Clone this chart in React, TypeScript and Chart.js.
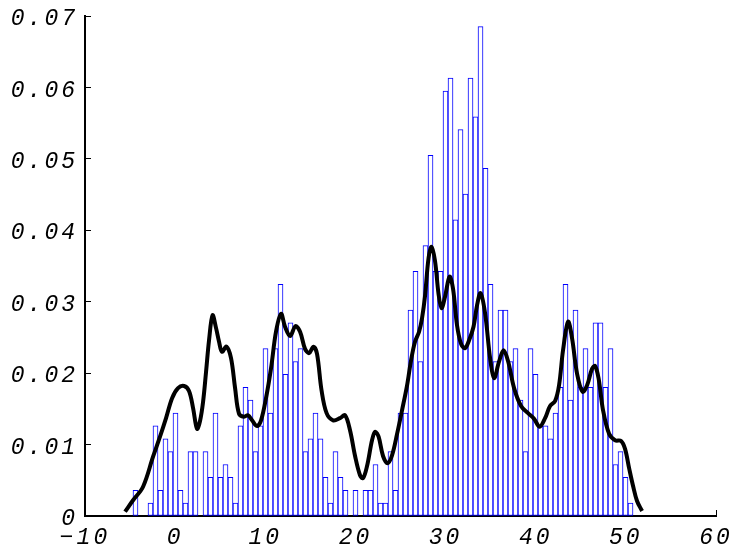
import React, { useEffect, useRef } from 'react';
import { Chart, registerables } from 'chart.js';

Chart.register(...registerables);

// Histogram: 100 bins, 1000 samples, normalised to a probability density
const binStart = -4.676;
const binWidth = 0.5547;
const sampleCount = 1000;
const binCounts = [
  2, 0, 0, 1, 7, 2, 6, 5, 8, 2,
  1, 5, 5, 0, 5, 3, 8, 3, 4, 3,
  1, 7, 10, 9, 5, 7, 13, 8, 13, 18,
  11, 15, 12, 13, 5, 6, 8, 6, 3, 1,
  5, 3, 2, 0, 2, 0, 2, 2, 4, 1,
  1, 5, 2, 8, 8, 16, 19, 12, 21, 28,
  19, 19, 33, 34, 23, 30, 25, 34, 31, 38,
  27, 18, 12, 16, 16, 12, 13, 9, 5, 13,
  11, 7, 7, 6, 8, 10, 18, 9, 16, 10,
  13, 10, 15, 15, 10, 13, 4, 5, 3, 1,
];

// Kernel density estimate (black curve)
const kdeX = [
  -5.56, -4.67, -3.56, -2.45, -1.68, -1.01, -0.34, 0.32, 0.99, 1.54,
  1.99, 2.43, 2.76, 3.10, 3.43, 3.76, 4.15, 4.54, 4.87, 5.20,
  5.70, 6.20, 6.65, 7.09, 7.64, 8.09, 8.53, 9.09, 9.53, 10.08,
  10.64, 11.19, 11.75, 12.19, 12.75, 13.36, 13.86, 14.41, 14.86, 15.35,
  15.74, 16.24, 16.80, 17.52, 18.29, 18.85, 19.40, 19.96, 20.51, 20.85,
  21.29, 21.84, 22.18, 22.57, 23.06, 23.56, 24.06, 24.62, 25.17, 25.73,
  26.17, 26.61, 27.06, 27.39, 27.72, 28.11, 28.45, 28.83, 29.22, 29.55,
  29.94, 30.44, 30.83, 31.27, 31.72, 32.16, 32.61, 33.10, 33.49, 33.88,
  34.38, 34.94, 35.38, 35.93, 36.43, 36.93, 37.60, 38.37, 39.15, 39.82,
  40.43, 41.04, 41.59, 42.15, 42.59, 43.03, 43.59, 44.03, 44.59, 45.20,
  45.70, 46.25, 46.58, 46.97, 47.47, 48.14, 48.80, 49.47, 49.91, 50.36,
  50.80, 51.24, 51.80,
];
const kdeY = [
  0.0006, 0.0022, 0.0041, 0.0083, 0.0111, 0.0137, 0.0165, 0.0179, 0.0182, 0.0175,
  0.0151, 0.0122, 0.0133, 0.0160, 0.0202, 0.0246, 0.0281, 0.0263, 0.0244, 0.0230,
  0.0237, 0.0221, 0.0179, 0.0143, 0.0139, 0.0141, 0.0134, 0.0126, 0.0134, 0.0165,
  0.0207, 0.0258, 0.0283, 0.0265, 0.0252, 0.0266, 0.0258, 0.0234, 0.0228, 0.0237,
  0.0227, 0.0176, 0.0144, 0.0134, 0.0137, 0.0141, 0.0120, 0.0084, 0.0057, 0.0053,
  0.0070, 0.0106, 0.0118, 0.0111, 0.0084, 0.0074, 0.0085, 0.0115, 0.0148, 0.0183,
  0.0218, 0.0244, 0.0258, 0.0277, 0.0308, 0.0361, 0.0377, 0.0357, 0.0311, 0.0291,
  0.0307, 0.0335, 0.0318, 0.0267, 0.0241, 0.0235, 0.0246, 0.0265, 0.0295, 0.0312,
  0.0284, 0.0221, 0.0193, 0.0216, 0.0232, 0.0217, 0.0179, 0.0154, 0.0144, 0.0136,
  0.0125, 0.0137, 0.0154, 0.0161, 0.0183, 0.0232, 0.0272, 0.0249, 0.0199, 0.0174,
  0.0183, 0.0206, 0.0210, 0.0193, 0.0148, 0.0115, 0.0106, 0.0105, 0.0094, 0.0067,
  0.0042, 0.0021, 0.0007,
];

const xTicks = [-10, 0, 10, 20, 30, 40, 50, 60];
const yTicks = [0, 0.01, 0.02, 0.03, 0.04, 0.05, 0.06, 0.07];

const tickFont = { family: "'Liberation Mono', monospace", style: 'italic' as const, size: 23, lineHeight: 1.1 };

const letterSpacingPlugin = {
  id: 'letterSpacing',
  beforeDraw(chart: any) {
    chart.ctx.letterSpacing = '3px';
  },
  afterDraw(chart: any) {
    chart.ctx.letterSpacing = '0px';
  },
};

export default function App() {
  const canvasRef = useRef<HTMLCanvasElement | null>(null);

  useEffect(() => {
    if (!canvasRef.current) return;
    const barData = binCounts.map((c, i) => ({
      x: binStart + binWidth * (i + 0.5),
      y: c / (sampleCount * binWidth),
    }));
    const lineData = kdeX.map((x, i) => ({ x, y: kdeY[i] }));

    const chart = new Chart(canvasRef.current, {
      type: 'bar',
      data: {
        datasets: [
          {
            type: 'line',
            data: lineData,
            borderColor: '#000000',
            borderWidth: 4,
            pointRadius: 0,
            pointHoverRadius: 0,
            tension: 0.35,
            fill: false,
            order: 0,
          } as any,
          {
            type: 'bar',
            data: barData,
            backgroundColor: '#ffffff',
            borderColor: '#0000ff',
            hoverBorderColor: '#0000ff',
            hoverBackgroundColor: '#ffffff',
            borderWidth: 1,
            borderSkipped: false,
            barPercentage: 1,
            categoryPercentage: 1,
            order: 1,
          } as any,
        ],
      },
      options: {
        animation: false,
        responsive: false,
        maintainAspectRatio: false,
        events: [],
        layout: { padding: { top: 16, right: 20, left: 0, bottom: 0 } },
        plugins: { legend: { display: false }, tooltip: { enabled: false } },
        scales: {
          x: {
            type: 'linear',
            min: -10,
            max: 60,
            offset: false,
            afterBuildTicks: (s: any) => {
              s.ticks = xTicks.map((v) => ({ value: v }));
            },
            afterFit: (s: any) => {
              s.height = 32;
              s.paddingLeft = 0;
              s.paddingRight = 0;
            },
            ticks: {
              color: '#000000',
              font: tickFont,
              padding: 15,
              maxRotation: 0,
              autoSkip: false,
              callback: (v: any) => (v < 0 ? '\u2212' + Math.abs(v) : String(v)),
            },
            grid: {
              display: true,
              drawOnChartArea: false,
              drawTicks: true,
              tickLength: -6,
              color: '#000000',
              lineWidth: 1,
              offset: false,
            },
            border: { display: true, color: '#000000', width: 2 },
          },
          y: {
            type: 'linear',
            min: 0,
            max: 0.07,
            afterBuildTicks: (s: any) => {
              s.ticks = yTicks.map((v) => ({ value: v }));
            },
            afterFit: (s: any) => {
              s.width = 85;
              s.paddingTop = 0;
              s.paddingBottom = 0;
            },
            ticks: {
              color: '#000000',
              font: tickFont,
              padding: 13,
              labelOffset: 3,
              autoSkip: false,
              callback: (v: any) => (v === 0 ? '0' : Number(v).toFixed(2)),
            },
            grid: {
              display: true,
              drawOnChartArea: false,
              drawTicks: true,
              tickLength: -6,
              color: '#000000',
              lineWidth: 1,
            },
            border: { display: true, color: '#000000', width: 2 },
          },
        },
      },
      plugins: [letterSpacingPlugin],
    });

    return () => {
      chart.destroy();
    };
  }, []);

  return (
    <div style={{ position: 'fixed', left: 0, top: 0, width: 736, height: 548, background: '#ffffff' }}>
      <canvas ref={canvasRef} width={736} height={548} />
    </div>
  );
}
